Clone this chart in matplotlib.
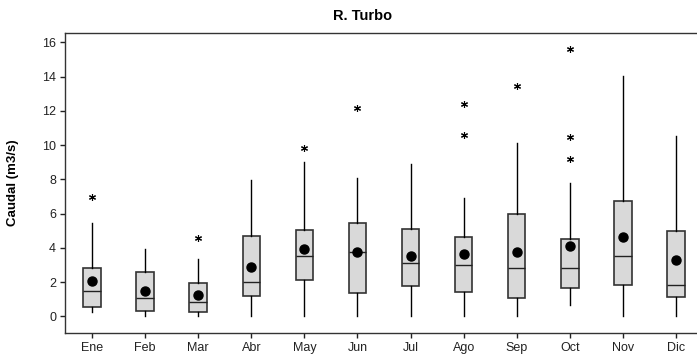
import numpy as np
import matplotlib.pyplot as plt

# monthly flow stats
months = ["Ene", "Feb", "Mar", "Abr", "May", "Jun", "Jul", "Ago", "Sep", "Oct", "Nov", "Dic"]
whis_low = [0.23, 0.0, 0.0, 0.0, 0.0, 0.0, 0.0, 0.0, 0.0, 0.66, 0.0, 0.0]
q1 = [0.56, 0.31, 0.23, 1.20, 2.14, 1.38, 1.77, 1.44, 1.05, 1.66, 1.85, 1.11]
medians = [1.50, 1.05, 0.82, 2.02, 3.50, 3.75, 3.11, 2.98, 2.82, 2.82, 3.50, 1.85]
q3 = [2.80, 2.59, 1.93, 4.69, 5.04, 5.46, 5.12, 4.65, 5.99, 4.53, 6.73, 4.99]
whis_high = [5.43, 3.91, 3.33, 7.96, 9.00, 8.08, 8.89, 6.89, 10.10, 7.80, 14.05, 10.51]
means = [2.08, 1.46, 1.23, 2.88, 3.93, 3.77, 3.52, 3.66, 3.77, 4.11, 4.61, 3.31]
outliers = [[6.98], [], [4.55], [], [9.85], [12.15], [], [12.40, 10.59], [13.45],
            [15.63, 10.49, 9.20], [], []]

plt.rcParams['font.family'] = ['Liberation Sans', 'DejaVu Sans']

fig = plt.figure(figsize=(6.97, 3.58), dpi=100)
ax = fig.add_axes([0.0933, 0.0698, 0.91, 0.838])

stats = []
for i in range(len(months)):
    stats.append({"whislo": whis_low[i], "q1": q1[i], "med": medians[i],
                  "q3": q3[i], "whishi": whis_high[i], "mean": means[i],
                  "fliers": outliers[i], "label": months[i]})

pos = np.arange(1, len(months) + 1)
ax.bxp(stats, positions=pos, widths=0.33, patch_artist=True,
       showmeans=True, showcaps=False,
       boxprops=dict(facecolor="#d9d9d9", edgecolor="#333333", linewidth=1.2),
       medianprops=dict(color="#222222", linewidth=1.0),
       whiskerprops=dict(color="black", linewidth=1.0),
       meanprops=dict(marker="o", markerfacecolor="black", markeredgecolor="black",
                      markersize=6.5),
       flierprops=dict(marker=(6, 2, 0), markeredgecolor="black", markersize=5,
                       markeredgewidth=0.8, linestyle="none"))

ax.set_xlim(0.49, 12.44)
ax.set_ylim(-0.97, 16.54)
ax.set_yticks(np.arange(0, 17, 2))
ax.set_xticks(pos)
ax.set_xticklabels(months)
ax.tick_params(axis="both", labelsize=9, length=3.5, width=1, colors="#222222",
               direction="out", pad=3)

for side in ["top", "left", "bottom"]:
    ax.spines[side].set_color("#333333")
    ax.spines[side].set_linewidth(1.0)
ax.spines["right"].set_visible(False)

fig.text(0.52, 0.955, "R. Turbo", fontsize=10.5, fontweight="bold",
         ha="center", va="center")
ax.set_ylabel("Caudal (m3/s)", fontsize=9.5, fontweight="bold")
ax.yaxis.set_label_coords(-0.0725, 0.5)

fig.savefig("out.png", dpi=100)
